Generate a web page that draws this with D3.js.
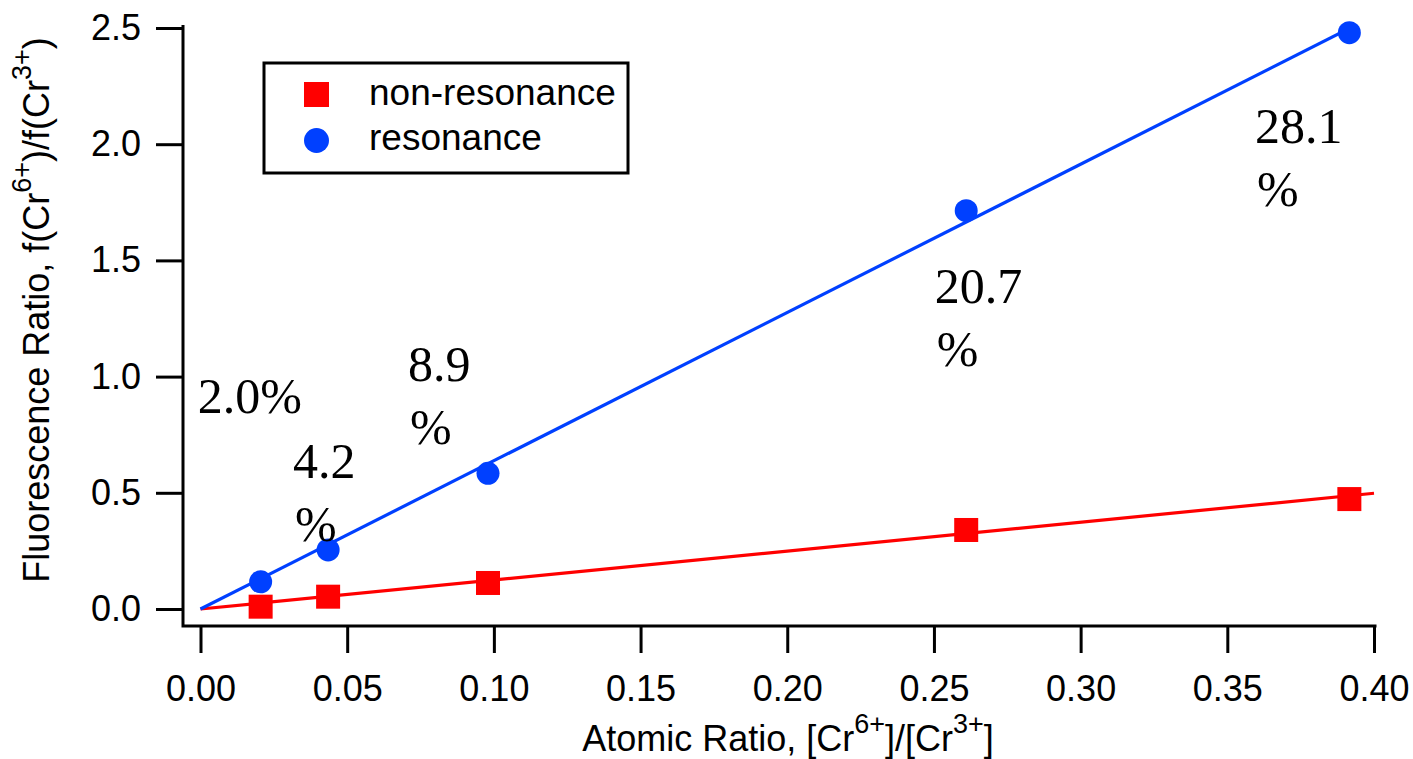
<!DOCTYPE html>
<html>
<head>
<meta charset="utf-8">
<script src="https://cdn.jsdelivr.net/npm/d3@7"></script>
<style>
  html, body { margin: 0; padding: 0; background: #fff; }
  svg { display: block; }
</style>
</head>
<body>
<svg id="chart" width="1413" height="759"></svg>
<script>
// ---- data ----
const atomicRatio = [0.0205, 0.0435, 0.098, 0.261, 0.3916];
const nonResonance = [0.01, 0.053, 0.112, 0.34, 0.473];
const resonance = [0.117, 0.254, 0.584, 1.714, 2.48];
const fitSlopeNonRes = 1.245;
const fitSlopeRes = 6.38;
const xTicks = [0, 0.05, 0.10, 0.15, 0.20, 0.25, 0.30, 0.35, 0.40];
const yTicks = [0, 0.5, 1.0, 1.5, 2.0, 2.5];
const seriesNames = ["non-resonance", "resonance"];
const annotLines = [["2.0%"], ["4.2", "%"], ["8.9", "%"], ["20.7", "%"], ["28.1", "%"]];
const annotX = [-0.0009, 0.0315, 0.0707, 0.2503, 0.3594];
const annotY = [0.843, 0.564, 0.981, 1.317, 2.005];

// ---- layout ----
const svg = d3.select("#chart");
const x = d3.scaleLinear().domain([0, 0.4]).range([200.5, 1374]);
const y = d3.scaleLinear().domain([0, 2.5]).range([609, 28]);
const axisX = 183, axisY = 626, plotRight = 1375, plotTop = 28;
const RED = "#ff0000", BLUE = "#0040ff";
const SANS = "'Liberation Sans', Arial, Helvetica, sans-serif";
const SERIF = "'Liberation Serif', 'Times New Roman', serif";

svg.append("defs").append("clipPath").attr("id", "plotclip")
  .append("rect").attr("x", axisX).attr("y", plotTop)
  .attr("width", plotRight - axisX).attr("height", axisY - plotTop);

// axes
const gx = svg.append("g").attr("transform", `translate(0,${axisY})`)
  .call(d3.axisBottom(x).tickValues(xTicks).tickFormat(d3.format(".2f"))
    .tickSize(27).tickPadding(22));
const gy = svg.append("g").attr("transform", `translate(${axisX},0)`)
  .call(d3.axisLeft(y).tickValues(yTicks).tickFormat(d3.format(".1f"))
    .tickSize(27).tickPadding(15));
[gx, gy].forEach(g => {
  g.select(".domain").remove();
  g.selectAll(".tick line").attr("stroke", "#000").attr("stroke-width", 3);
  g.selectAll(".tick text").attr("fill", "#000").style("font-family", SANS).style("font-size", "36px");
});
svg.append("path")
  .attr("d", `M${axisX},${plotTop - 1.5}V${axisY}H${plotRight}`)
  .attr("fill", "none").attr("stroke", "#000").attr("stroke-width", 3)
  .attr("stroke-linecap", "square");

// fit lines
const plot = svg.append("g").attr("clip-path", "url(#plotclip)");
const line = d3.line().x(d => x(d[0])).y(d => y(d[1]));
plot.append("path").datum([[0, 0], [0.4, 0.4 * fitSlopeNonRes]])
  .attr("d", line).attr("fill", "none").attr("stroke", RED).attr("stroke-width", 3.2);
plot.append("path").datum([[0, 0], [0.4, 0.4 * fitSlopeRes]])
  .attr("d", line).attr("fill", "none").attr("stroke", BLUE).attr("stroke-width", 3.2);

// markers
const sq = 24;
svg.append("g").selectAll("rect").data(atomicRatio.map((a, i) => [a, nonResonance[i]]))
  .join("rect")
  .attr("x", d => x(d[0]) - sq / 2).attr("y", d => y(d[1]) - sq / 2)
  .attr("width", sq).attr("height", sq).attr("fill", RED);
svg.append("g").selectAll("circle").data(atomicRatio.map((a, i) => [a, resonance[i]]))
  .join("circle")
  .attr("cx", d => x(d[0])).attr("cy", d => y(d[1])).attr("r", 11.5).attr("fill", BLUE);

// annotations
const ann = svg.append("g").style("font-family", SERIF).style("font-size", "50px").attr("fill", "#000");
annotLines.forEach((lines, i) => {
  const t = ann.append("text").attr("x", x(annotX[i])).attr("y", y(annotY[i]));
  lines.forEach((s, j) => {
    t.append("tspan").attr("x", x(annotX[i]) + (j > 0 ? 2 : 0)).attr("dy", j === 0 ? 0 : 63).text(s);
  });
});

// legend
const lg = svg.append("g");
lg.append("rect").attr("x", 264).attr("y", 63).attr("width", 364).attr("height", 110)
  .attr("fill", "#fff").attr("stroke", "#000").attr("stroke-width", 3);
lg.append("rect").attr("x", 304).attr("y", 82).attr("width", 25).attr("height", 25).attr("fill", RED);
lg.append("circle").attr("cx", 316.5).attr("cy", 140.5).attr("r", 12.5).attr("fill", BLUE);
lg.selectAll("text.lt").data(seriesNames).join("text").attr("class", "lt")
  .attr("x", 369).attr("y", (d, i) => 105 + i * 45)
  .style("font-family", SANS).style("font-size", "37px").attr("fill", "#000").text(d => d);

// axis titles
const xt = svg.append("text").attr("x", 788).attr("y", 751).attr("text-anchor", "middle")
  .style("font-family", SANS).style("font-size", "36px").attr("fill", "#000");
xt.append("tspan").text("Atomic Ratio, [Cr");
xt.append("tspan").attr("dy", -18).style("font-size", "27px").text("6+");
xt.append("tspan").attr("dy", 18).text("]/[Cr");
xt.append("tspan").attr("dy", -18).style("font-size", "27px").text("3+");
xt.append("tspan").attr("dy", 18).text("]");

const yt = svg.append("text").attr("transform", "translate(49,310) rotate(-90)")
  .attr("text-anchor", "middle")
  .style("font-family", SANS).style("font-size", "36px").attr("fill", "#000");
yt.append("tspan").text("Fluorescence Ratio, f(Cr");
yt.append("tspan").attr("dy", -18).style("font-size", "27px").text("6+");
yt.append("tspan").attr("dy", 18).text(")/f(Cr");
yt.append("tspan").attr("dy", -18).style("font-size", "27px").text("3+");
yt.append("tspan").attr("dy", 18).text(")");
</script>
</body>
</html>
